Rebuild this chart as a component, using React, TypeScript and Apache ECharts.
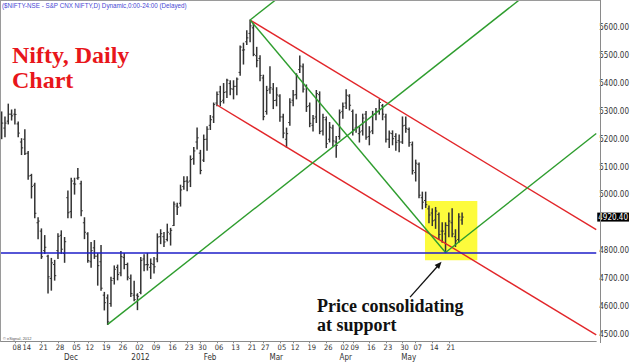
import React, { useEffect, useRef } from "react";
import * as echarts from "echarts";

// ---- trading days (NSE), Nov 2011 - Jul 2012 (future days give the empty right part) ----
const nov11 = [1, 2, 3, 4, 8, 9, 11, 14, 15, 16, 17, 18, 21, 22, 23, 24, 25, 28, 29, 30];
const dec11 = [1, 2, 5, 7, 8, 9, 12, 13, 14, 15, 16, 19, 20, 21, 22, 23, 26, 27, 28, 29, 30];
const jan12 = [2, 3, 4, 5, 6, 9, 10, 11, 12, 13, 16, 17, 18, 19, 20, 23, 24, 25, 27, 30, 31];
const feb12 = [1, 2, 3, 6, 7, 8, 9, 10, 13, 14, 15, 16, 17, 21, 22, 23, 24, 27, 28, 29];
const mar12 = [1, 2, 5, 6, 7, 9, 12, 13, 14, 15, 16, 19, 20, 21, 22, 23, 26, 27, 28, 29, 30];
const apr12 = [2, 3, 4, 9, 10, 11, 12, 13, 16, 17, 18, 19, 20, 23, 24, 25, 26, 27, 30];
const may12 = [2, 3, 4, 7, 8, 9, 10, 11, 14, 15, 16, 17, 18, 21, 22, 23, 24, 25, 28, 29, 30, 31];
const jun12 = [1, 4, 5, 6, 7, 8, 11, 12, 13, 14, 15, 18, 19, 20, 21, 22, 25, 26, 27, 28, 29];
const jul12 = [2, 3, 4, 5, 6, 9, 10, 11, 12, 13, 16, 17, 18, 19, 20];

const monthDays: [number, number, number[]][] = [
  [2011, 11, nov11], [2011, 12, dec11], [2012, 1, jan12], [2012, 2, feb12], [2012, 3, mar12],
  [2012, 4, apr12], [2012, 5, may12], [2012, 6, jun12], [2012, 7, jul12],
];
const pad = (n: number) => String(n).padStart(2, "0");
const categories = monthDays.flatMap(([y, m, days]) => days.map((d) => `${y}-${pad(m)}-${pad(d)}`));

// ---- axis labels ----
const weekTickDates = [
  "2011-11-08", "2011-11-14", "2011-11-21", "2011-11-28", "2011-12-05", "2011-12-12", "2011-12-19", "2011-12-26",
  "2012-01-02", "2012-01-09", "2012-01-16", "2012-01-23", "2012-01-30", "2012-02-06", "2012-02-13", "2012-02-21",
  "2012-02-27", "2012-03-05", "2012-03-12", "2012-03-19", "2012-03-26", "2012-04-02", "2012-04-09", "2012-04-16",
  "2012-04-23", "2012-04-30", "2012-05-07", "2012-05-14", "2012-05-21",
];
const monthLabelDates = ["2011-12-01", "2012-01-02", "2012-02-01", "2012-03-01", "2012-04-02", "2012-05-02"];
const monthLabelTexts = ["Dec", "2012", "Feb", "Mar", "Apr", "May"];

// ---- daily OHLC, Nov 1 2011 .. May 25 2012 ----
const opens = [
  5290, 5240, 5265, 5290, 5290, 5255, 5190, 5200, 5150, 5070,
  5035, 4900, 4870, 4800, 4780, 4700, 4750, 4800, 4855, 4790,
  4990, 4940, 5040, 5060, 5040, 4900, 4860, 4760, 4810, 4780,
  4760, 4640, 4630, 4610, 4700, 4740, 4720, 4775, 4750, 4700,
  4640, 4640, 4650, 4770, 4750, 4740, 4750, 4770, 4850, 4850,
  4840, 4860, 4890, 4960, 4970, 5030, 5050, 5050, 5130, 5190,
  5150, 5125, 5200, 5250, 5280, 5330, 5370, 5340, 5370, 5400,
  5380, 5390, 5440, 5520, 5550, 5580, 5600, 5500, 5490, 5420,
  5300, 5380, 5380, 5340, 5355, 5280, 5200, 5260, 5340, 5360,
  5450, 5460, 5390, 5320, 5250, 5280, 5360, 5230, 5270, 5200,
  5240, 5190, 5210, 5300, 5330, 5355, 5300, 5240, 5220, 5230,
  5290, 5210, 5230, 5290, 5300, 5320, 5280, 5200, 5220, 5210,
  5195, 5190, 5250, 5235, 5180, 5080, 5110, 4990, 4980, 4950,
  4935, 4910, 4930, 4870, 4860, 4890, 4900, 4850, 4840, 4910,
];
const highs = [
  5298, 5280, 5326, 5305, 5308, 5262, 5202, 5234, 5156, 5074,
  5042, 4918, 4878, 4854, 4783, 4772, 4765, 4861, 4871, 4847,
  5014, 5060, 5060, 5095, 5049, 4918, 4864, 4829, 4836, 4790,
  4818, 4650, 4641, 4704, 4745, 4748, 4797, 4790, 4755, 4712,
  4690, 4645, 4775, 4785, 4790, 4770, 4775, 4860, 4875, 4865,
  4895, 4880, 4975, 4970, 5035, 5065, 5065, 5140, 5170, 5240,
  5160, 5215, 5245, 5285, 5330, 5370, 5390, 5400, 5415, 5410,
  5410, 5420, 5535, 5545, 5590, 5628, 5615, 5530, 5500, 5430,
  5390, 5460, 5400, 5385, 5360, 5290, 5240, 5345, 5375, 5435,
  5499, 5470, 5395, 5330, 5285, 5375, 5370, 5290, 5280, 5260,
  5250, 5210, 5305, 5330, 5378, 5360, 5305, 5290, 5245, 5290,
  5300, 5245, 5300, 5310, 5342, 5325, 5290, 5230, 5230, 5220,
  5215, 5280, 5280, 5240, 5190, 5125, 5115, 5010, 5010, 4960,
  4950, 4955, 4935, 4900, 4900, 4935, 4950, 4875, 4932, 4935,
];
const lows = [
  5202, 5209, 5255, 5269, 5255, 5209, 5145, 5145, 5056, 4989,
  4918, 4843, 4772, 4790, 4648, 4658, 4694, 4772, 4790, 4758,
  4918, 4918, 5003, 5056, 4925, 4843, 4758, 4740, 4772, 4676,
  4658, 4587, 4535, 4600, 4680, 4695, 4710, 4735, 4695, 4635,
  4620, 4588, 4645, 4728, 4730, 4700, 4720, 4760, 4825, 4815,
  4835, 4820, 4890, 4930, 4960, 5020, 5015, 5030, 5110, 5165,
  5076, 5120, 5160, 5235, 5260, 5320, 5320, 5330, 5350, 5360,
  5345, 5360, 5430, 5470, 5540, 5550, 5500, 5460, 5410, 5270,
  5290, 5365, 5310, 5320, 5265, 5205, 5171, 5250, 5320, 5345,
  5440, 5370, 5300, 5245, 5230, 5260, 5220, 5215, 5170, 5190,
  5175, 5135, 5200, 5275, 5310, 5305, 5215, 5225, 5190, 5215,
  5200, 5180, 5220, 5270, 5290, 5270, 5190, 5170, 5180, 5160,
  5155, 5185, 5225, 5175, 5075, 5050, 4990, 4950, 4955, 4900,
  4890, 4880, 4840, 4830, 4793, 4850, 4850, 4815, 4830, 4895,
];
const closes = [
  5258, 5258, 5290, 5284, 5289, 5222, 5169, 5148, 5068, 5030,
  4934, 4906, 4778, 4812, 4706, 4756, 4710, 4851, 4805, 4832,
  4936, 5050, 5039, 5062, 4943, 4866, 4764, 4800, 4780, 4746,
  4665, 4613, 4544, 4693, 4733, 4714, 4779, 4750, 4705, 4646,
  4624, 4636, 4765, 4749, 4749, 4754, 4742, 4849, 4861, 4831,
  4866, 4873, 4967, 4956, 5018, 5048, 5046, 5127, 5158, 5205,
  5088, 5199, 5236, 5270, 5325, 5361, 5335, 5368, 5412, 5381,
  5390, 5416, 5531, 5521, 5564, 5607, 5505, 5483, 5429, 5281,
  5375, 5385, 5339, 5359, 5280, 5222, 5220, 5333, 5359, 5429,
  5463, 5380, 5317, 5257, 5274, 5364, 5228, 5278, 5184, 5243,
  5194, 5178, 5295, 5317, 5358, 5322, 5234, 5243, 5226, 5276,
  5207, 5226, 5289, 5300, 5332, 5290, 5200, 5222, 5202, 5189,
  5190, 5248, 5239, 5188, 5087, 5114, 4999, 4974, 4965, 4928,
  4907, 4942, 4858, 4870, 4891, 4906, 4860, 4835, 4921, 4920.4,
];

// ---- annotations (data space) ----
const supportLevel = 4793;
const RED = "#e2262a";
const GREEN = "#2e9d2e";
const BLUE = "#1e1ec8";
type TL = { color: string; a: [string, number]; b: [string, number]; extend: boolean };
const trendLines: TL[] = [
  { color: RED, a: ["2012-02-21", 5628], b: ["2012-04-19", 5347], extend: true },
  { color: RED, a: ["2012-02-06", 5323], b: ["2012-03-07", 5171.6], extend: true },
  { color: GREEN, a: ["2011-12-20", 4535], b: ["2012-03-29", 5182], extend: true },
  { color: GREEN, a: ["2012-02-21", 5628], b: ["2012-03-01", 5693.7], extend: true },
  { color: GREEN, a: ["2012-02-21", 5628], b: ["2012-05-18", 4793], extend: false },
  { color: GREEN, a: ["2012-05-18", 4793], b: ["2012-05-25", 4840], extend: true },
];
const highlightBox = { fromIdx: 127.8, toIdx: 143.6, top: 4978, bottom: 4765 };
const arrow = { from: [123.3, 4633], to: [132.8, 4760] };

const TITLE = "($NIFTY-NSE - S&P CNX NIFTY,D) Dynamic,0:00-24:00 (Delayed)";
const NARROW = "'Liberation Sans Narrow','Arial Narrow','DejaVu Sans Condensed',sans-serif";

export default function App() {
  const ref = useRef<HTMLDivElement>(null);
  useEffect(() => {
    const chart = echarts.init(ref.current!, undefined, { renderer: "svg" });
    const weekSet = new Set(weekTickDates);
    const monthMap: Record<string, string> = {};
    monthLabelDates.forEach((d, i) => (monthMap[d] = monthLabelTexts[i]));
    const idxOf = (d: string) => categories.indexOf(d);
    const lastEdge = categories.length - 0.5;
    const lastClose = closes[closes.length - 1];

    const pt = (api: any, idx: number, price: number) => {
      const i = Math.max(0, Math.min(categories.length - 1, Math.floor(idx)));
      const c = api.coord([i, price]);
      const band = api.size([1, 0])[0];
      return [c[0] + (idx - i) * band, c[1]];
    };

    const ohlc = opens.map((o, i) => [i, o, highs[i], lows[i], closes[i]]);

    const ctx = document.createElement("canvas").getContext("2d")!;
    ctx.font = '8px "Liberation Sans"';
    const tw = ctx.measureText(TITLE).width || 185;
    const titleScale = 185 / tw;

    const option: any = {
      animation: false,
      backgroundColor: "#fff",
      grid: { left: -2, right: 32, top: -3.25, bottom: -0.75, containLabel: false },
      xAxis: [
        {
          type: "category",
          data: categories,
          boundaryGap: true,
          position: "bottom",
          offset: -20.75,
          axisLine: { show: true, lineStyle: { color: "#8a8a8a", width: 1 } },
          axisTick: {
            show: true,
            interval: (i: number, v: string) => weekSet.has(v),
            alignWithLabel: true,
            length: 2,
            lineStyle: { color: "#8a8a8a" },
          },
          axisLabel: {
            interval: (i: number, v: string) => weekSet.has(v),
            formatter: (v: string) => v.slice(8),
            fontSize: 7.5,
            fontFamily: NARROW,
            color: "#333",
            margin: 2,
            padding: [0, 0, 0, 4],
          },
          splitLine: { show: false },
        },
        {
          type: "category",
          data: categories,
          boundaryGap: true,
          position: "bottom",
          offset: -20.75,
          axisLine: { show: false },
          axisTick: { show: false },
          axisLabel: {
            interval: (i: number, v: string) => v in monthMap,
            formatter: (v: string) => monthMap[v] || "",
            fontSize: 8,
            fontFamily: NARROW,
            color: "#333",
            margin: 12,
            padding: [0, 0, 0, 6],
          },
          splitLine: { show: false },
        },
      ],
      yAxis: {
        type: "value",
        position: "right",
        min: 4400,
        max: 5700,
        interval: 100,
        axisLine: { show: false },
        axisTick: { show: false },
        splitLine: { show: false },
        axisLabel: {
          // the 4900 label sits under the last-price box in the reference
          formatter: (v: number) =>
            v <= 4400 || v >= 5700 || Math.abs(v - lastClose) < 40 ? "" : v.toFixed(2),
          fontSize: 8,
          fontFamily: NARROW,
          color: "#333",
          margin: 3,
        },
      },
      series: [
        {
          type: "custom",
          name: "highlight",
          z: 1,
          silent: true,
          data: [[0, 5000]],
          encode: { x: 0, y: 1 },
          renderItem: (params: any, api: any) => {
            const p1 = pt(api, highlightBox.fromIdx, highlightBox.top);
            const p2 = pt(api, highlightBox.toIdx, highlightBox.bottom);
            return {
              type: "rect",
              shape: { x: p1[0], y: p1[1], width: p2[0] - p1[0], height: p2[1] - p1[1] },
              style: { fill: "#fdfb3c" },
            };
          },
        },
        {
          type: "custom",
          name: "NIFTY",
          z: 2,
          silent: true,
          data: ohlc,
          encode: { x: 0, y: [1, 2, 3, 4] },
          renderItem: (params: any, api: any) => {
            const i = api.value(0);
            const o = api.coord([i, api.value(1)]);
            const h = api.coord([i, api.value(2)]);
            const l = api.coord([i, api.value(3)]);
            const c = api.coord([i, api.value(4)]);
            const x = h[0];
            const st = { stroke: "#333", lineWidth: 1.5 };
            return {
              type: "group",
              children: [
                { type: "line", shape: { x1: x, y1: h[1] - 0.5, x2: x, y2: l[1] + 0.5 }, style: st },
                { type: "line", shape: { x1: x - 1.6, y1: o[1], x2: x, y2: o[1] }, style: { stroke: "#333", lineWidth: 1 } },
                { type: "line", shape: { x1: x, y1: c[1], x2: x + 1.6, y2: c[1] }, style: { stroke: "#333", lineWidth: 1 } },
              ],
            };
          },
          markLine: {
            silent: true,
            symbol: "none",
            animation: false,
            data: [
              {
                yAxis: supportLevel,
                lineStyle: { color: BLUE, width: 1.5, type: "solid" },
                label: { show: false },
              },
              {
                yAxis: lastClose,
                lineStyle: { color: "rgba(0,0,0,0)", width: 0 },
                label: {
                  show: true,
                  position: "end",
                  distance: 1,
                  formatter: () => lastClose.toFixed(2),
                  color: "#fff",
                  backgroundColor: "#000",
                  padding: [1, 1, 0, 1],
                  fontSize: 8,
                  fontFamily: NARROW,
                },
              },
            ],
          },
        },
        {
          type: "custom",
          name: "lines",
          z: 3,
          silent: true,
          clip: true,
          data: [[0, 5000]],
          encode: { x: 0, y: 1 },
          renderItem: (params: any, api: any) => {
            const children: any[] = trendLines.map((t) => {
              const ia = idxOf(t.a[0]);
              const ib = idxOf(t.b[0]);
              let xi = ib;
              let p = t.b[1];
              if (t.extend) {
                const slope = (t.b[1] - t.a[1]) / (ib - ia);
                xi = lastEdge;
                p = t.a[1] + slope * (lastEdge - ia);
              }
              const s = pt(api, ia, t.a[1]);
              const e = pt(api, xi, p);
              return {
                type: "line",
                shape: { x1: s[0], y1: s[1], x2: e[0], y2: e[1] },
                style: { stroke: t.color, lineWidth: 1.4 },
              };
            });
            const a0 = pt(api, arrow.from[0], arrow.from[1]);
            const a1 = pt(api, arrow.to[0], arrow.to[1]);
            const dx = a1[0] - a0[0];
            const dy = a1[1] - a0[1];
            const len = Math.hypot(dx, dy);
            const ux = dx / len;
            const uy = dy / len;
            const hl = 7;
            const hw = 3;
            const bx = a1[0] - ux * hl;
            const by = a1[1] - uy * hl;
            children.push({
              type: "line",
              shape: { x1: a0[0], y1: a0[1], x2: bx + ux * 2, y2: by + uy * 2 },
              style: { stroke: "#111", lineWidth: 1.3 },
            });
            children.push({
              type: "polygon",
              shape: {
                points: [
                  [a1[0], a1[1]],
                  [bx - uy * hw, by + ux * hw],
                  [bx + uy * hw, by - ux * hw],
                ],
              },
              style: { fill: "#111" },
            });
            return { type: "group", children };
          },
        },
      ],
      graphic: [
        { type: "line", z: 10, shape: { x1: 0.5, y1: 0, x2: 0.5, y2: 342 }, style: { stroke: "#9a9a9a", lineWidth: 1 } },
        { type: "line", z: 10, shape: { x1: 0, y1: 0.5, x2: 601, y2: 0.5 }, style: { stroke: "#9a9a9a", lineWidth: 1 } },
        { type: "line", z: 10, shape: { x1: 600.5, y1: 0, x2: 600.5, y2: 343 }, style: { stroke: "#8a8a8a", lineWidth: 1 } },
        {
          type: "text", z: 10, x: 2, y: 6, scaleX: titleScale,
          style: { text: TITLE, fill: "#4848d4", fontSize: 8, fontFamily: "Liberation Sans", verticalAlign: "middle" },
        },
        {
          type: "text", z: 10, x: 12, y: 54.5,
          style: { text: "Nifty, Daily", fill: "#e8161b", fontSize: 24, fontWeight: "bold", fontFamily: "Liberation Serif", verticalAlign: "middle" },
        },
        {
          type: "text", z: 10, x: 12, y: 79.5,
          style: { text: "Chart", fill: "#e8161b", fontSize: 24, fontWeight: "bold", fontFamily: "Liberation Serif", verticalAlign: "middle" },
        },
        {
          type: "text", z: 10, x: 317, y: 305.5,
          style: { text: "Price consolidating", fill: "#111", fontSize: 18, fontWeight: "bold", fontFamily: "Liberation Serif", verticalAlign: "middle" },
        },
        {
          type: "text", z: 10, x: 317, y: 325,
          style: { text: "at support", fill: "#111", fontSize: 18, fontWeight: "bold", fontFamily: "Liberation Serif", verticalAlign: "middle" },
        },
        {
          type: "text", z: 10, x: 3, y: 338,
          style: { text: "© eSignal, 2012", fill: "#555", fontSize: 4, fontFamily: "Liberation Sans", verticalAlign: "middle" },
        },
      ],
    };
    chart.setOption(option);
    return () => chart.dispose();
  }, []);
  return (
    <div
      ref={ref}
      style={{ position: "absolute", left: 0, top: 0, width: 632, height: 362, background: "#fff" }}
    />
  );
}
